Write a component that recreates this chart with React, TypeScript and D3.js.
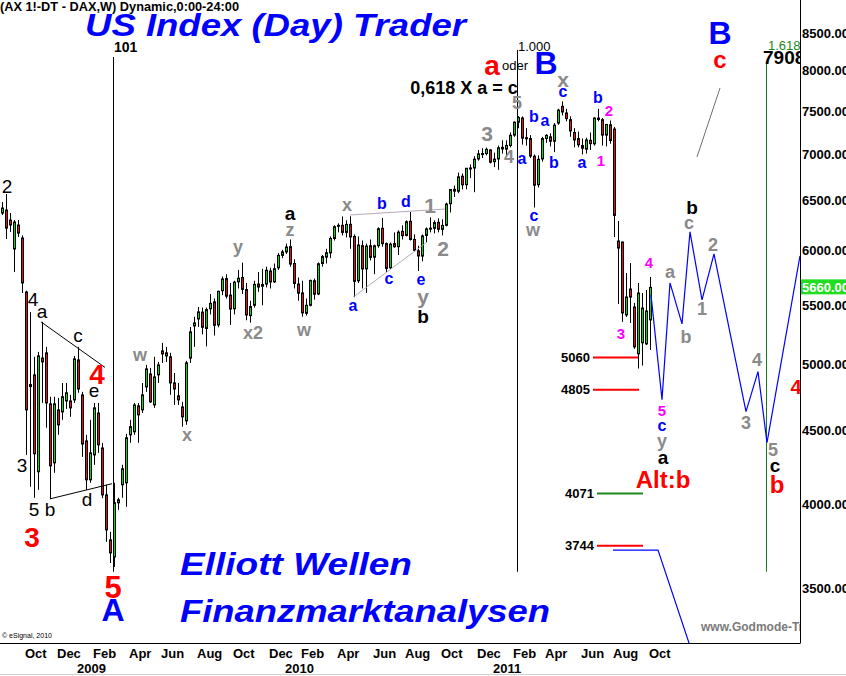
import React from 'react';
import * as d3 from 'd3';

// weekly DAX bars, [open, high, low, close]; week 0 = 6 Oct 2008, first bar is week -6
const firstWeek = -6;
const candles: [number, number, number, number][] = [
  [6374, 6487, 6354, 6425], [6405, 6571, 6115, 6222], [6303, 6374, 6184, 6253], [6018, 6303, 5800, 6283],
  [6253, 6303, 6134, 6173], [6125, 6150, 5609, 5700], [5618, 5630, 4330, 4653], [4830, 5440, 4115, 4845],
  [4921, 5065, 4043, 4338], [4215, 5105, 4095, 5072], [5055, 5356, 4705, 5024], [5097, 5146, 4522, 4705],
  [4698, 4752, 4036, 4255], [4275, 4752, 4208, 4698], [4653, 4743, 4471, 4543], [4638, 4858, 4580, 4752],
  [4720, 4858, 4660, 4782], [4720, 4766, 4602, 4668], [4728, 5072, 4705, 5048], [5040, 5146, 4782, 4811],
  [4766, 4789, 4316, 4406], [4428, 4471, 4095, 4161], [4161, 4580, 4141, 4344], [4330, 4705, 4262, 4668],
  [4630, 4705, 4344, 4400], [4378, 4414, 4040, 4062], [4062, 4128, 3768, 3841], [3780, 3829, 3643, 3702],
  [3678, 4141, 3620, 4011], [4011, 4043, 3966, 4030], [4128, 4262, 4043, 4235], [4141, 4478, 3985, 4450],
  [4471, 4580, 4414, 4530], [4493, 4705, 4471, 4690], [4683, 4705, 4414, 4616], [4653, 4858, 4630, 4766],
  [4827, 5000, 4789, 4968], [4928, 4976, 4705, 4713], [4690, 5065, 4668, 4905], [4921, 5024, 4858, 5000],
  [5113, 5179, 5016, 5089], [5072, 5146, 5024, 5097], [5065, 5097, 4766, 4858], [4858, 4936, 4690, 4811],
  [4759, 4858, 4690, 4728], [4675, 4713, 4530, 4602], [4572, 5032, 4543, 5016], [5055, 5313, 5016, 5271],
  [5321, 5400, 5146, 5347], [5381, 5485, 5313, 5442], [5440, 5480, 5250, 5310], [5300, 5480, 5150, 5462],
  [5470, 5600, 5420, 5517], [5530, 5560, 5240, 5327], [5330, 5630, 5310, 5624], [5630, 5760, 5590, 5737],
  [5740, 5780, 5560, 5581], [5590, 5700, 5330, 5467], [5470, 5720, 5420, 5707], [5710, 5820, 5650, 5743],
  [5750, 5888, 5600, 5642], [5640, 5700, 5370, 5415], [5410, 5540, 5350, 5489], [5500, 5720, 5480, 5687],
  [5690, 5800, 5620, 5663], [5670, 5830, 5500, 5686], [5690, 5850, 5660, 5817], [5810, 5840, 5650, 5709],
  [5710, 5880, 5700, 5831], [5840, 5980, 5820, 5957], [5957, 6010, 5930, 5990], [5990, 6070, 5970, 6037],
  [6040, 6111, 5850, 5875], [5880, 5920, 5650, 5696], [5690, 5750, 5540, 5608], [5610, 5720, 5400, 5434],
  [5430, 5560, 5410, 5500], [5500, 5730, 5490, 5723], [5720, 5740, 5550, 5598], [5600, 5890, 5590, 5877],
  [5880, 5960, 5850, 5945], [5940, 6020, 5880, 5982], [5980, 6140, 5930, 6120], [6120, 6250, 6100, 6236],
  [6240, 6270, 6180, 6250], [6250, 6340, 6150, 6180], [6180, 6300, 6130, 6259], [6260, 6341, 6020, 6135],
  [6140, 6160, 5571, 5715], [5720, 6140, 5700, 6056], [6050, 6100, 5650, 5829], [5830, 6070, 5610, 6046],
  [6050, 6110, 5910, 5938], [5940, 6060, 5780, 6049], [6050, 6230, 6030, 6216], [6220, 6324, 6040, 6070],
  [6070, 6080, 5800, 5834], [5840, 6080, 5830, 6065], [6070, 6180, 6030, 6040], [6040, 6200, 5960, 6183],
  [6190, 6250, 6110, 6148], [6150, 6300, 6140, 6286], [6290, 6386, 6100, 6110], [6110, 6160, 5990, 6006],
  [6000, 6050, 5810, 5951], [5950, 6160, 5900, 6145], [6150, 6230, 6080, 6214], [6220, 6330, 6180, 6222],
  [6220, 6300, 6170, 6277], [6280, 6320, 6180, 6211], [6210, 6310, 6150, 6249], [6250, 6480, 6240, 6466],
  [6470, 6620, 6380, 6618], [6620, 6660, 6540, 6601], [6600, 6800, 6580, 6754], [6760, 6790, 6620, 6668],
  [6670, 6850, 6620, 6847], [6850, 6890, 6740, 6850], [6850, 6980, 6590, 6947], [6950, 7050, 6930, 7007],
  [7010, 7070, 6960, 7010], [7010, 7077, 6990, 7057], [7050, 7060, 6900, 6914], [6920, 7020, 6860, 6948],
  [6950, 7100, 6830, 7075], [7080, 7160, 7010, 7062], [7060, 7160, 6980, 7102], [7100, 7250, 7080, 7217],
  [7220, 7380, 7200, 7371], [7370, 7442, 7300, 7426], [7420, 7440, 7110, 7185], [7190, 7300, 7100, 7178],
  [7180, 7220, 6960, 6982], [6980, 7000, 6430, 6664], [6670, 6990, 6640, 6946], [6950, 7200, 6920, 7180],
  [7180, 7230, 7130, 7217], [7200, 7240, 7090, 7150], [7150, 7360, 7027, 7336], [7360, 7530, 7340, 7514],
  [7560, 7620, 7450, 7492], [7480, 7530, 7380, 7413], [7400, 7440, 7200, 7268], [7250, 7300, 7080, 7164],
  [7180, 7260, 7080, 7109], [7100, 7180, 7000, 7070], [7060, 7190, 7010, 7164], [7160, 7250, 7050, 7122],
  [7120, 7430, 7100, 7419], [7420, 7530, 7380, 7403], [7400, 7420, 7100, 7220], [7220, 7350, 7090, 7344],
  [7340, 7390, 7120, 7158], [7290, 7315, 6134, 6350], [6095, 6293, 5512, 6027], [6085, 6090, 5356, 5433],
  [5416, 5791, 5399, 5573], [5645, 5884, 5347, 5573], [5485, 5521, 5130, 5146], [5089, 5700, 4971, 5609],
  [5180, 5609, 4995, 5476], [5171, 5636, 5162, 5450], [5373, 5755, 5121, 5660],
];

const priceTicks = [8500, 8000, 7500, 7000, 6500, 6000, 5500, 5000, 4500, 4000, 3500];
const monthTicks: [number, number, string][] = [
  [2008, 10, 'Oct'], [2008, 12, 'Dec'], [2009, 2, 'Feb'], [2009, 4, 'Apr'], [2009, 6, 'Jun'], [2009, 8, 'Aug'],
  [2009, 10, 'Oct'], [2009, 12, 'Dec'], [2010, 2, 'Feb'], [2010, 4, 'Apr'], [2010, 6, 'Jun'], [2010, 8, 'Aug'],
  [2010, 10, 'Oct'], [2010, 12, 'Dec'], [2011, 2, 'Feb'], [2011, 4, 'Apr'], [2011, 6, 'Jun'], [2011, 8, 'Aug'],
  [2011, 10, 'Oct'],
];
const yearTicks = [2009, 2010, 2011];

// Elliott wave projection (week, price)
const projection: [number, number][] = [
  [156.25, 5592], [159, 4730], [161, 5700], [164, 5339], [166, 6185], [169, 5548],
  [172, 5971], [180, 4640], [183, 4946], [185.25, 4416], [193.5, 5952],
];
const lowerPath: [number, number][] = [[146.75, 3719], [158, 3719], [166.5, 3160]];
const bPath: [number, number][] = [[167.75, 6972], [173.5, 7784]];
const leftTriangle: [number, number][][] = [[[3.75, 5356], [19.75, 4980]], [[6, 4036], [21.5, 4135]]];
const midTriangle: [number, number][][] = [[[81, 6354], [104.75, 6415]], [[81.75, 5571], [100.25, 6085]]];

const fibLevels = [5060, 4805, 4071, 3744];
const fibStart = [141.75, 141.75, 142.75, 142.75];
const fibEnd = [153, 153.25, 154.25, 154.25];

const cycleWeeks = [21.75, 122.75, 185];
const cycleNames = ['101', '1.000', '1.618'];
const cycleTop = [8180, 8273, 8102];
const cycleBottom = 3592;

// wave labels: text, week, price, kind
const waveLabels: [string, number, number, string][] = [
  ['2', -4.75, 6645, 'k'], ['4', 1.75, 5547, 'k'], ['a', 4, 5442, 'k'], ['c', 13, 5237, 'k'],
  ['4', 17.75, 4920, 'r'], ['e', 17, 4797, 'k'], ['3', -1, 4254, 'k'], ['5', 2, 3971, 'k'],
  ['b', 6, 3966, 'k'], ['d', 15.25, 4030, 'k'], ['3', 1.5, 3797, 'r'], ['5', 21.75, 3505, 'rl'],
  ['A', 21.75, 3379, 'B'], ['w', 28.5, 5080, 'g'], ['x', 40.25, 4470, 'g'],
  ['y', 53, 6038, 'g'], ['x2', 56.75, 5262, 'g'], ['a', 66, 6374, 'kb'], ['z', 66, 6203, 'g'],
  ['w', 69.5, 5288, 'g'], ['x', 80.25, 6456, 'g'], ['b', 89, 6476, 'bl'], ['d', 95, 6497, 'bl'],
  ['1', 101, 6456, 'gl'], ['2', 104.25, 6018, 'gl'], ['a', 81.75, 5502, 'bl'], ['c', 90.75, 5745, 'bl'],
  ['e', 98.75, 5736, 'bl'], ['y', 99.25, 5582, 'gl'], ['b', 99.25, 5398, 'kb'],
  ['a', 116.5, 8076, 'r'], ['oder', 122.25, 8076, 'sm'], ['B', 130, 8102, 'B'],
  ['0,618 X a = c', 109.5, 7784, 'eq'], ['x', 134.25, 7885, 'gl'], ['5', 122.75, 7600, 'g'],
  ['3', 115.25, 7233, 'gl'], ['4', 120.75, 6972, 'g'], ['a', 124, 6960, 'bl'], ['b', 127, 7432, 'bl'],
  ['a', 129.75, 7385, 'bl'], ['c', 134.25, 7735, 'bl'], ['b', 132, 6905, 'bl'], ['a', 139, 6905, 'bl'],
  ['b', 143, 7673, 'bl'], ['2', 145.75, 7504, 'm'], ['1', 143.75, 6938, 'm'], ['c', 127, 6354, 'bl'],
  ['w', 126.75, 6203, 'g'],
  ['b', 166.5, 6426, 'kb'], ['c', 165.75, 6273, 'g'], ['4', 155.75, 5885, 'm'], ['a', 161, 5800, 'g'],
  ['2', 171.75, 6057, 'g'], ['1', 169, 5468, 'g'], ['b', 165, 5228, 'g'], ['3', 148.75, 5254, 'm'],
  ['5', 159, 4645, 'm'], ['c', 159, 4535, 'bl'], ['y', 159, 4427, 'g'], ['a', 159.25, 4309, 'kb'],
  ['Alt:b', 159.25, 4161, 'rs'], ['4', 182.75, 5040, 'g'], ['3', 180, 4557, 'g'], ['5', 186.75, 4365, 'g'],
  ['c', 187.25, 4254, 'kb'], ['b', 187.75, 4133, 'rs'], ['4', 192.5, 4826, 'rm'],
  ['B', 173.5, 8500, 'B'], ['c', 173.5, 8141, 'rs'],
];

const kinds: Record<string, { fill: string; size: number; weight: string }> = {
  k: { fill: '#000', size: 19, weight: 'normal' },
  kb: { fill: '#000', size: 19, weight: 'bold' },
  g: { fill: '#8a8a8a', size: 18, weight: 'bold' },
  gl: { fill: '#8a8a8a', size: 21, weight: 'bold' },
  bl: { fill: '#0000ff', size: 16, weight: 'bold' },
  m: { fill: '#ff00ff', size: 15, weight: 'bold' },
  r: { fill: '#ff0000', size: 28, weight: 'bold' },
  rs: { fill: '#ff0000', size: 24, weight: 'bold' },
  rm: { fill: '#ff0000', size: 20, weight: 'bold' },
  rl: { fill: '#ff0000', size: 31, weight: 'bold' },
  B: { fill: '#0000ff', size: 32, weight: 'bold' },
  sm: { fill: '#000', size: 13, weight: 'normal' },
  eq: { fill: '#000', size: 18, weight: 'bold' },
};

const font = 'Liberation Sans, Arial, sans-serif';

function weekOfMonth(year: number, month: number) {
  const days = (Date.UTC(year, month - 1, 1) - Date.UTC(2008, 9, 6)) / 86400000;
  return Math.ceil(days / 7);
}

export default function App() {
  const W = 846, H = 676;
  const plotRight = 800, plotBottom = 643;

  const x = d3.scaleLinear().domain([0, 156]).range([26, 650]);
  const y = d3.scaleLog().domain([3500, 8500]).range([588, 33]);
  const line = d3.line<[number, number]>().x(d => x(d[0])).y(d => y(d[1]));

  const last = candles[candles.length - 1][3];

  return (
    <div style={{ position: 'absolute', left: 0, top: 0 }}>
      <svg width={W} height={H} style={{ display: 'block', background: '#fff' }} fontFamily={font}>
        <defs>
          <clipPath id="plot"><rect x={0} y={0} width={plotRight} height={plotBottom} /></clipPath>
        </defs>

        <g clipPath="url(#plot)">
          {/* cycle lines */}
          {cycleWeeks.map((w, i) => (
            <line key={'cl' + i} x1={Math.round(x(w)) + 0.5} x2={Math.round(x(w)) + 0.5}
              y1={y(cycleTop[i])} y2={y(cycleBottom)} stroke={i === 2 ? '#1a7a1a' : '#000'} strokeWidth={1} />
          ))}

          {/* candles */}
          {candles.map((c, k) => {
            const [o, h, l, cl] = c;
            const cx = Math.round(x(k + firstWeek));
            const top = y(Math.max(o, cl)), bot = y(Math.min(o, cl));
            return (
              <g key={'c' + k}>
                <line x1={cx + 0.5} x2={cx + 0.5} y1={y(h)} y2={y(l)} stroke="#000" strokeWidth={1} />
                <rect x={cx - 0.5} y={top} width={2} height={Math.max(1, bot - top)}
                  fill={cl >= o ? '#22c822' : '#d01818'} stroke="#000" strokeWidth={1} />
              </g>
            );
          })}

          {/* triangles */}
          {leftTriangle.map((seg, i) => (
            <path key={'lt' + i} d={line(seg) || ''} fill="none" stroke="#000" strokeWidth={1} />
          ))}
          {midTriangle.map((seg, i) => (
            <path key={'mt' + i} d={line(seg) || ''} fill="none" stroke="#b4a8bc" strokeWidth={1} />
          ))}

          {/* fib levels */}
          {fibLevels.map((v, i) => (
            <g key={'f' + i}>
              <line x1={x(fibStart[i])} x2={x(fibEnd[i])} y1={y(v)} y2={y(v)}
                stroke={v === 4071 ? '#1a8a1a' : '#ff0000'} strokeWidth={2} />
              <text x={x(fibStart[i]) - 3} y={y(v)} dominantBaseline="central" textAnchor="end"
                fontSize={13} fontWeight="bold" fill="#000">{v}</text>
            </g>
          ))}

          {/* projections */}
          <path d={line(projection) || ''} fill="none" stroke="#0000ff" strokeWidth={1.2} />
          <path d={line(lowerPath) || ''} fill="none" stroke="#0000ff" strokeWidth={1.2} />
          <path d={line(bPath) || ''} fill="none" stroke="#707070" strokeWidth={1} />

          {/* cycle labels */}
          <text x={x(cycleWeeks[0]) + 1} y={52} fontSize={14} fontWeight="bold">{cycleNames[0]}</text>
          <text x={x(cycleWeeks[1]) + 1} y={51} fontSize={13}>{cycleNames[1]}</text>
          <text x={x(cycleWeeks[2]) + 2} y={y(8338)} dominantBaseline="central" fontSize={13} fill="#1a8a1a">{cycleNames[2]}</text>
          <text x={x(cycleWeeks[2]) - 3} y={y(8180)} dominantBaseline="central" fontSize={19} fontWeight="bold">7908</text>

          {/* wave labels */}
          {waveLabels.map(([t, w, p, kd], i) => {
            const s = kinds[kd];
            return (
              <text key={'w' + i} x={x(w)} y={y(p)} textAnchor="middle" dominantBaseline="central"
                fontSize={s.size} fontWeight={s.weight} fill={s.fill}>{t}</text>
            );
          })}

          {/* overlay texts */}
          <text x={0} y={11} fontSize={12} fontWeight="bold" textLength={239} lengthAdjust="spacingAndGlyphs">(AX 1!-DT - DAX,W) Dynamic,0:00-24:00</text>
          <text x={85} y={36} fontSize={31} fontWeight="bold" fontStyle="italic" fill="#0000ff"
            textLength={381} lengthAdjust="spacingAndGlyphs">US Index (Day) Trader</text>
          <text x={180} y={575} fontSize={31} fontWeight="bold" fontStyle="italic" fill="#0000ff"
            textLength={232} lengthAdjust="spacingAndGlyphs">Elliott Wellen</text>
          <text x={180} y={622} fontSize={31} fontWeight="bold" fontStyle="italic" fill="#0000ff"
            textLength={370} lengthAdjust="spacingAndGlyphs">Finanzmarktanalysen</text>
          <text x={2} y={638} fontSize={7}>© eSignal, 2010</text>
          <text x={701} y={631} fontSize={12} fontWeight="bold" fill="#7a7a7a">www.Godmode-Trader.de</text>
        </g>

        {/* axes frame */}
        <line x1={plotRight + 0.5} x2={plotRight + 0.5} y1={0} y2={plotBottom} stroke="#000" />
        <line x1={0} x2={plotRight + 0.5} y1={plotBottom + 0.5} y2={plotBottom + 0.5} stroke="#000" />
        <line x1={0} x2={W} y1={H - 1.5} y2={H - 1.5} stroke="#d0d0d0" />

        {priceTicks.map(v => (
          <text key={'p' + v} x={plotRight + 2} y={y(v)} dominantBaseline="central" fontSize={13} fontWeight="bold">
            {v.toFixed(2)}
          </text>
        ))}
        <rect x={plotRight + 1} y={y(last) - 8} width={W - plotRight - 1} height={15} fill="#22dd22" />
        <text x={plotRight + 2} y={y(last)} dominantBaseline="central" fontSize={13} fontWeight="bold" fill="#fff">
          {last.toFixed(2)}
        </text>

        {monthTicks.map(([yr, mo, name], i) => (
          <text key={'m' + i} x={Math.round(x(weekOfMonth(yr, mo))) - 1} y={658} fontSize={13} fontWeight="bold">{name}</text>
        ))}
        {yearTicks.map(yr => (
          <text key={'y' + yr} x={Math.round(x(weekOfMonth(yr, 1))) - 1} y={673} fontSize={13} fontWeight="bold">{yr}</text>
        ))}
      </svg>
    </div>
  );
}
